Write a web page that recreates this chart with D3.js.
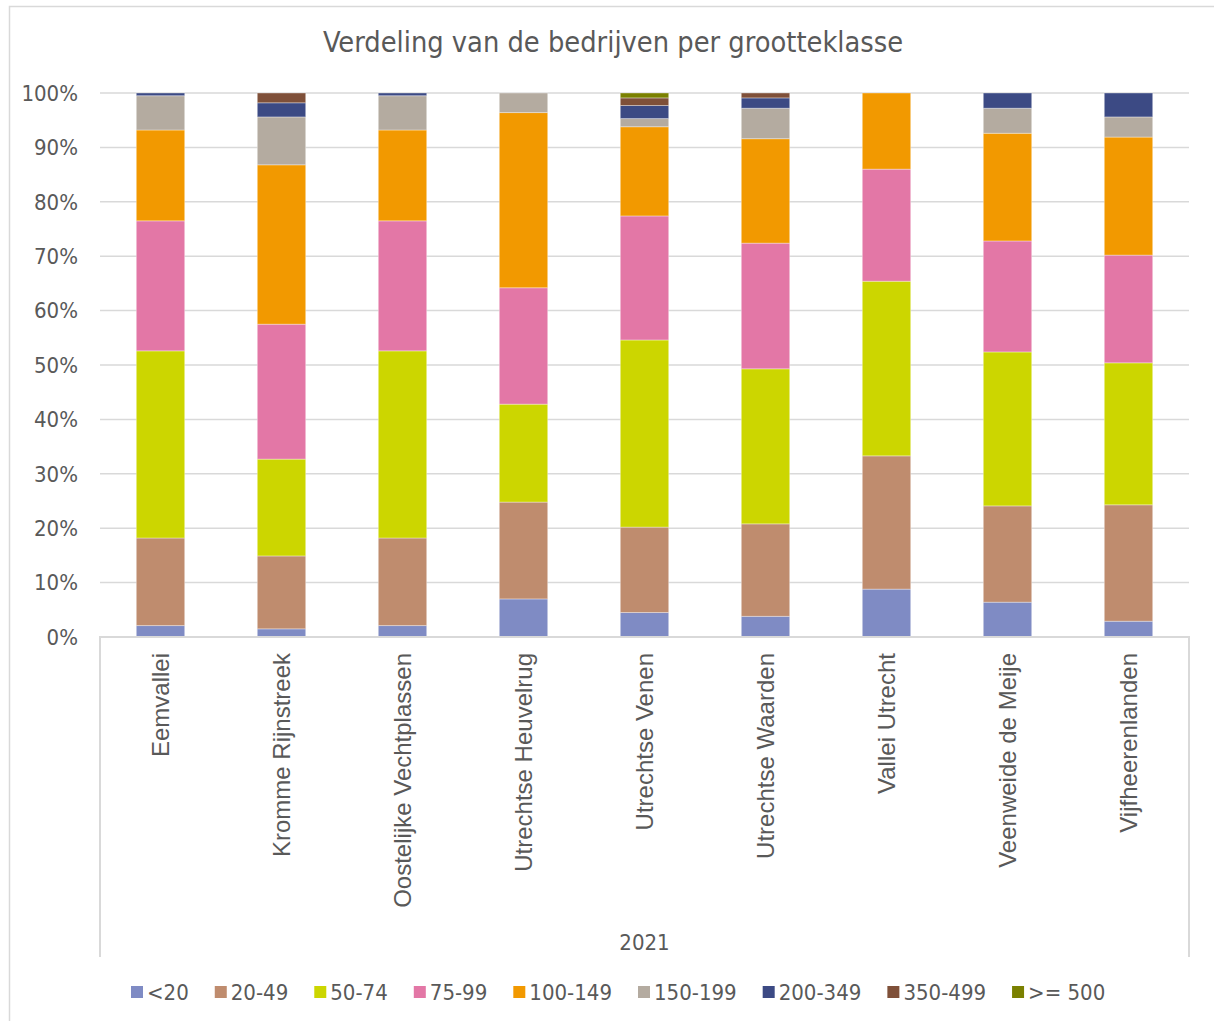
<!DOCTYPE html>
<html>
<head>
<meta charset="utf-8">
<script src="https://cdn.jsdelivr.net/npm/d3@7"></script>
<style>
  body { margin: 0; background: #fff; }
  .narrow { font-family: "Liberation Sans Narrow", "DejaVu Sans Condensed", "Liberation Sans", sans-serif; }
</style>
</head>
<body>
<script>
// regions (categories) and size classes (series)
let regions = ['Eemvallei', 'Kromme Rijnstreek', 'Oostelijke Vechtplassen', 'Utrechtse Heuvelrug',
  'Utrechtse Venen', 'Utrechtse Waarden', 'Vallei Utrecht', 'Veenweide de Meije', 'Vijfheerenlanden']
let classes = ['<20', '20-49', '50-74', '75-99', '100-149', '150-199', '200-349', '350-499', '>= 500']
let colors = ['#7f8bc4', '#bf8c6e', '#ccd600', '#e377a6', '#f29900', '#b4aba0', '#3c4a84', '#7f5039', '#7a8000']

// share per class in %, one value per region
let lt20     = [2.1, 1.5, 2.1, 7.0, 4.5, 3.8, 8.8, 6.4, 2.9]
let c20_49   = [16.1, 13.4, 16.1, 17.8, 15.7, 17.0, 24.5, 17.7, 21.4]
let c50_74   = [34.4, 17.8, 34.4, 18.0, 34.4, 28.5, 32.1, 28.3, 26.1]
let c75_99   = [23.9, 24.8, 23.9, 21.4, 22.8, 23.1, 20.6, 20.4, 19.8]
let c100_149 = [16.7, 29.3, 16.7, 32.2, 16.4, 19.2, 14.0, 19.8, 21.7]
let c150_199 = [6.3, 8.8, 6.3, 3.6, 1.5, 5.6, 0, 4.6, 3.7]
let c200_349 = [0.5, 2.6, 0.5, 0, 2.4, 1.9, 0, 2.8, 4.4]
let c350_499 = [0, 1.8, 0, 0, 1.4, 0.9, 0, 0, 0]
let ge500    = [0, 0, 0, 0, 0.9, 0, 0, 0, 0]

let yTicks = [0, 0.1, 0.2, 0.3, 0.4, 0.5, 0.6, 0.7, 0.8, 0.9, 1]
let groupLabel = '2021'
let title = 'Verdeling van de bedrijven per grootteklasse'

let seriesValues = [lt20, c20_49, c50_74, c75_99, c100_149, c150_199, c200_349, c350_499, ge500]
let rows = regions.map((r, i) => {
  let row = {region: r}
  classes.forEach((c, j) => { row[c] = seriesValues[j][i] })
  return row
})

let width = 1214
let height = 1021
let plotLeft = 100, plotRight = 1189, plotTop = 93, plotBottom = 637

let svg = d3.select('body').append('svg')
  .attr('width', width)
  .attr('height', height)

// chart frame (right and bottom edges fall outside the crop)
svg.append('path')
  .attr('d', `M9.5,${height} V6.5 H${width}`)
  .style('fill', 'none')
  .style('stroke', '#d9d9d9')
  .style('stroke-width', 1.5)

let x = d3.scaleBand().domain(regions).range([plotLeft, plotRight]).paddingInner(0.6).paddingOuter(0.3)
let y = d3.scaleLinear().domain([0, 1]).range([plotBottom, plotTop])

// gridlines
svg.append('g')
  .selectAll('line')
  .data(yTicks.slice(1))
  .enter().append('line')
  .attr('x1', plotLeft).attr('x2', plotRight)
  .attr('y1', d => y(d)).attr('y2', d => y(d))
  .style('stroke', '#d9d9d9')
  .style('stroke-width', 1.5)

// y tick labels
svg.append('g')
  .selectAll('text')
  .data(yTicks)
  .enter().append('text')
  .attr('class', 'narrow')
  .attr('x', 78)
  .attr('y', d => y(d))
  .attr('dy', '0.35em')
  .attr('text-anchor', 'end')
  .style('font-size', '22px')
  .style('fill', '#595959')
  .text(d3.format('.0%'))

// stacked bars
let stack = d3.stack().keys(classes).offset(d3.stackOffsetExpand)
let layers = stack(rows)

svg.append('g')
  .selectAll('g')
  .data(layers)
  .enter().append('g')
  .style('fill', (d, i) => colors[i])
  .selectAll('rect')
  .data(d => d.filter(p => p[1] - p[0] > 0))
  .enter().append('rect')
  .attr('x', d => x(d.data.region))
  .attr('width', x.bandwidth())
  .attr('y', d => y(d[1]))
  .attr('height', d => y(d[0]) - y(d[1]))
  .style('stroke', '#fff')
  .style('stroke-opacity', 0.35)
  .style('stroke-width', 1)

// multi-level category axis box
svg.append('path')
  .attr('d', `M${plotLeft},957 V${plotBottom} H${plotRight} V957`)
  .style('fill', 'none')
  .style('stroke', '#d9d9d9')
  .style('stroke-width', 2)

// category labels, rotated
svg.append('g')
  .selectAll('text')
  .data(regions)
  .enter().append('text')
  .attr('transform', d => `translate(${x(d) + x.bandwidth() / 2},653) rotate(-90)`)
  .attr('dy', '0.35em')
  .attr('text-anchor', 'end')
  .style('font-family', '"Liberation Sans", sans-serif')
  .style('font-size', '24px')
  .style('fill', '#595959')
  .text(d => d)

svg.append('text')
  .attr('class', 'narrow')
  .attr('x', (plotLeft + plotRight) / 2)
  .attr('y', 950)
  .attr('text-anchor', 'middle')
  .style('font-size', '22px')
  .style('fill', '#595959')
  .text(groupLabel)

// title
svg.append('text')
  .attr('class', 'narrow')
  .attr('x', 613)
  .attr('y', 52)
  .attr('text-anchor', 'middle')
  .style('font-size', '28.7px')
  .style('fill', '#595959')
  .text(title)

// legend
let legend = svg.append('g').attr('transform', 'translate(0,992)')
let items = legend.selectAll('g')
  .data(classes)
  .enter().append('g')

items.append('rect')
  .attr('y', -6)
  .attr('width', 12)
  .attr('height', 12)
  .style('fill', (d, i) => colors[i])

items.append('text')
  .attr('class', 'narrow')
  .attr('x', 16)
  .attr('dy', '0.35em')
  .style('font-size', '22px')
  .style('fill', '#595959')
  .text(d => d)

let widths = []
items.select('text').each(function () { widths.push(16 + this.getComputedTextLength()) })
let gap = 26
let total = d3.sum(widths) + gap * (widths.length - 1)
let pos = 131
items.attr('transform', (d, i) => {
  let t = `translate(${pos},0)`
  pos += widths[i] + gap
  return t
})
</script>
</body>
</html>
